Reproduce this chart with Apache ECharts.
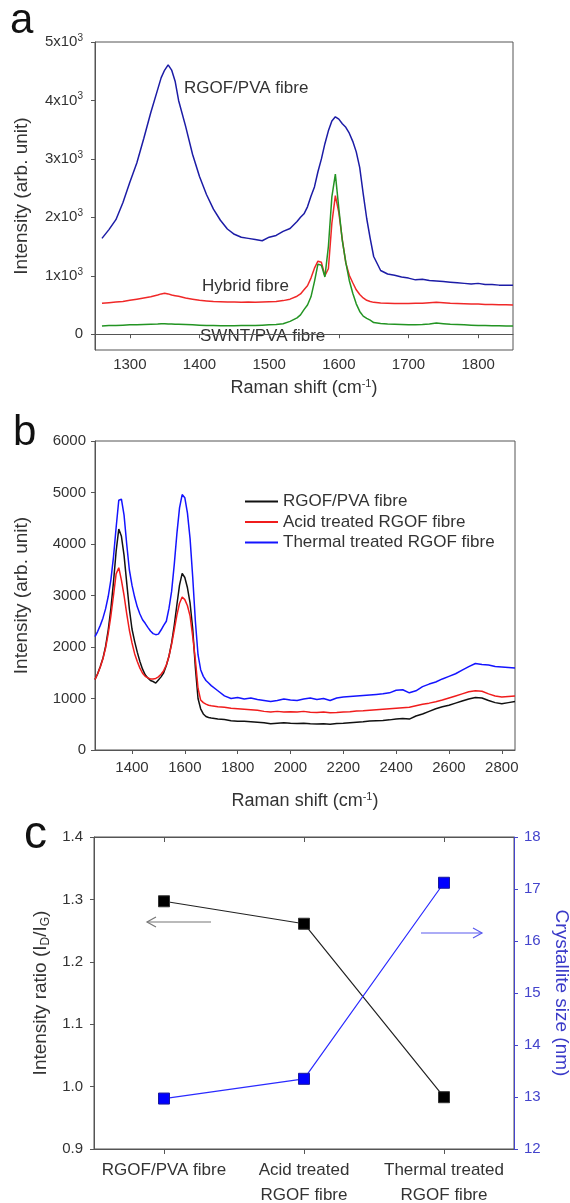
<!DOCTYPE html>
<html><head><meta charset="utf-8">
<script src="https://cdn.jsdelivr.net/npm/echarts@6/dist/echarts.min.js"></script>
<style>html,body{margin:0;padding:0;background:#fff}#c{width:570px;height:1203px}</style>
</head><body><div id="c"></div>
<script>
// ---------- Panel a ----------
const ramanA = [1260,1270,1280,1290,1300,1310,1320,1330,1340,1345,1350,1355,1360,1365,1370,1380,1390,1400,1410,1420,1430,1440,1450,1460,1470,1480,1490,1500,1510,1520,1530,1540,1545,1550,1555,1560,1565,1570,1575,1580,1585,1590,1595,1600,1605,1610,1615,1620,1625,1630,1635,1640,1645,1650,1660,1670,1680,1690,1700,1710,1720,1730,1740,1750,1760,1770,1780,1790,1800,1810,1820,1830,1840,1850];
const rgofA = [1640,1790,1960,2250,2600,2930,3350,3790,4190,4390,4520,4610,4520,4330,4000,3560,3080,2700,2390,2140,1950,1800,1710,1660,1640,1620,1600,1660,1690,1760,1810,1930,2000,2060,2180,2360,2520,2780,3000,3260,3480,3650,3720,3680,3600,3540,3440,3300,3120,2850,2400,1980,1640,1330,1090,1030,1010,980,960,930,940,920,910,900,890,880,870,860,870,850,850,840,840,840];
const hybridA = [530,540,550,560,580,600,620,640,670,690,700,690,670,660,650,620,600,580,570,560,555,550,550,545,550,545,550,555,560,575,600,650,690,760,830,960,1130,1250,1230,1000,1120,1900,2370,2080,1620,1220,1010,880,760,680,620,580,560,545,535,530,525,525,525,530,530,540,545,540,530,525,520,515,515,510,510,505,505,500];
const swntA = [140,150,150,155,160,160,165,170,175,180,180,175,175,170,170,165,160,155,150,150,145,145,145,150,150,150,155,160,165,180,220,280,330,420,500,640,900,1200,1180,980,1500,2350,2740,2150,1600,1230,920,700,520,390,310,270,240,200,185,175,170,165,160,160,165,175,190,180,170,165,160,155,150,150,145,145,140,140];
const xTicksA = [1300,1400,1500,1600,1700,1800];
const yTicksA = [0,1000,2000,3000,4000,5000];

// ---------- Panel b ----------
const ramanB = [1260,1270,1280,1290,1300,1310,1320,1330,1340,1350,1360,1370,1380,1390,1400,1410,1420,1430,1440,1450,1460,1470,1480,1490,1500,1510,1520,1530,1540,1550,1560,1570,1580,1590,1600,1610,1620,1630,1640,1650,1660,1670,1680,1690,1700,1725,1750,1775,1800,1825,1850,1875,1900,1925,1950,1975,2000,2025,2050,2075,2100,2125,2150,2175,2200,2225,2250,2275,2300,2325,2350,2375,2400,2425,2450,2475,2500,2525,2550,2575,2600,2625,2650,2675,2700,2725,2750,2775,2800,2825,2850];
const rgofB = [1370,1480,1620,1780,2010,2330,2740,3260,3860,4290,4150,3780,3250,2740,2350,2110,1900,1720,1570,1460,1400,1350,1330,1300,1360,1420,1500,1640,1820,2080,2420,2820,3200,3430,3350,3150,2850,2350,1600,1000,800,700,650,630,620,600,590,570,560,560,550,540,530,510,520,530,520,515,520,510,505,510,500,515,520,530,540,550,565,570,575,585,600,610,600,660,700,750,800,840,870,910,950,990,1020,1010,960,920,900,920,940];
const acidB = [1370,1480,1610,1770,1980,2260,2600,3000,3420,3540,3300,3000,2650,2330,2080,1870,1720,1590,1490,1430,1400,1380,1380,1390,1420,1470,1540,1650,1820,2050,2330,2620,2850,2970,2920,2800,2600,2200,1750,1200,970,920,890,870,860,840,830,810,800,790,780,770,750,740,750,740,745,740,750,735,730,740,725,730,740,745,755,760,770,780,790,800,810,820,830,860,890,910,935,970,1010,1050,1090,1130,1150,1140,1090,1050,1030,1040,1050];
const thermalB = [2200,2300,2420,2560,2740,2980,3300,3750,4320,4850,4870,4560,4000,3500,3200,2970,2780,2640,2530,2460,2380,2310,2260,2240,2250,2330,2420,2500,2750,3080,3600,4200,4700,4960,4900,4600,4100,3350,2500,1850,1560,1430,1350,1300,1250,1150,1050,1000,1020,990,1010,980,960,940,960,990,970,960,990,1010,980,1000,960,1010,1030,1040,1050,1060,1070,1080,1090,1110,1160,1170,1110,1150,1230,1280,1320,1380,1430,1480,1550,1620,1680,1660,1650,1620,1610,1600,1590];
const xTicksB = [1400,1600,1800,2000,2200,2400,2600,2800];
const yTicksB = [0,1000,2000,3000,4000,5000,6000];

// ---------- Panel c ----------
const categoriesC = ['RGOF/PVA fibre', 'Acid treated\nRGOF fibre', 'Thermal treated\nRGOF fibre'];
const ratioC = [1.297, 1.261, 0.983];
const sizeC = [12.97, 13.35, 17.12];
const yTicksCLeft = [0.9, 1.0, 1.1, 1.2, 1.3, 1.4];
const yTicksCRight = [12, 13, 14, 15, 16, 17, 18];

const FONT = 'Liberation Sans, Arial, sans-serif';
const TXT = '#333';
const AX = '#555';
const BLUEAX = '#4444cc';
const zip = (xs, ys) => xs.map((x, i) => [x, ys[i]]);
const plain = v => String(v);

const chart = echarts.init(document.getElementById('c'), null, {renderer: 'canvas'});

const baseAxisLine = {show: true, lineStyle: {color: AX, width: 1}};
const outTick = {show: true, inside: false, length: 4, lineStyle: {color: AX}};

const option = {
  backgroundColor: '#fff',
  animation: false,
  textStyle: {fontFamily: FONT},
  grid: [
    {left: 95, top: 42, width: 418, height: 308, show: true, borderColor: AX, borderWidth: 1, outerBoundsMode: 'none', containLabel: false},
    {left: 95, top: 441, width: 420, height: 309, show: true, borderColor: AX, borderWidth: 1, outerBoundsMode: 'none', containLabel: false},
    {left: 94, top: 837, width: 420, height: 312, show: true, borderColor: AX, borderWidth: 1, outerBoundsMode: 'none', containLabel: false}
  ],
  legend: {
    data: ['RGOF/PVA fibre', 'Acid treated RGOF fibre', 'Thermal treated RGOF fibre'],
    left: 240, top: 488, orient: 'vertical', icon: 'rect',
    itemWidth: 33, itemHeight: 2, itemGap: 3.5, selectedMode: false,
    textStyle: {fontSize: 17, color: TXT, fontFamily: FONT, lineHeight: 17}
  },
  xAxis: [
    {
      gridIndex: 0, type: 'value', min: 1250, max: 1850,
      axisLine: baseAxisLine, axisTick: Object.assign({customValues: xTicksA}, outTick),
      axisLabel: {customValues: xTicksA, formatter: plain, fontSize: 15, color: TXT, margin: 7, fontFamily: FONT},
      splitLine: {show: false},
      name: 'Raman shift (cm{s|-1})', nameLocation: 'middle', nameGap: 28,
      nameTextStyle: {fontSize: 18, color: TXT, fontFamily: FONT,
        rich: {s: {fontSize: 11, color: TXT, fontFamily: FONT, padding: [0, 0, 9, 0]}}}
    },
    {
      gridIndex: 1, type: 'value', min: 1260, max: 2850,
      axisLine: baseAxisLine, axisTick: Object.assign({customValues: xTicksB}, outTick),
      axisLabel: {customValues: xTicksB, formatter: plain, fontSize: 15, color: TXT, margin: 10, fontFamily: FONT},
      splitLine: {show: false},
      name: 'Raman shift (cm{s|-1})', nameLocation: 'middle', nameGap: 41,
      nameTextStyle: {fontSize: 18, color: TXT, fontFamily: FONT,
        rich: {s: {fontSize: 11, color: TXT, fontFamily: FONT, padding: [0, 0, 9, 0]}}}
    },
    {
      gridIndex: 2, type: 'category', data: categoriesC, boundaryGap: true,
      axisLine: baseAxisLine,
      axisTick: {show: true, alignWithLabel: true, inside: false, length: 5, lineStyle: {color: AX}},
      axisLabel: {interval: 0, fontSize: 17, lineHeight: 25, color: TXT, margin: 9, fontFamily: FONT},
      splitLine: {show: false}
    },
    {
      gridIndex: 2, type: 'category', data: categoriesC, boundaryGap: true, position: 'top',
      axisLine: baseAxisLine,
      axisTick: {show: true, alignWithLabel: true, inside: true, length: 5, lineStyle: {color: AX}},
      axisLabel: {show: false}, splitLine: {show: false}
    }
  ],
  yAxis: [
    {
      gridIndex: 0, type: 'value', min: -270, max: 5000,
      axisLine: baseAxisLine, axisTick: Object.assign({customValues: yTicksA}, outTick),
      axisLabel: {customValues: yTicksA, margin: 12, fontFamily: FONT, color: TXT, fontSize: 15,
        formatter: v => v === 0 ? '{n|0}' : '{n|' + (v / 1000) + 'x10}{s|3}',
        rich: {n: {fontSize: 15, color: TXT, fontFamily: FONT},
               s: {fontSize: 10, color: TXT, fontFamily: FONT, padding: [0, 0, 8, 0]}}},
      splitLine: {show: false},
      name: 'Intensity (arb. unit)', nameLocation: 'middle', nameGap: 64,
      nameTextStyle: {fontSize: 19, color: TXT, fontFamily: FONT}
    },
    {
      gridIndex: 1, type: 'value', min: 0, max: 6000, interval: 1000,
      axisLine: baseAxisLine, axisTick: outTick,
      axisLabel: {customValues: yTicksB, formatter: plain, fontSize: 15, color: TXT, margin: 9, fontFamily: FONT},
      splitLine: {show: false},
      name: 'Intensity (arb. unit)', nameLocation: 'middle', nameGap: 64,
      nameTextStyle: {fontSize: 19, color: TXT, fontFamily: FONT}
    },
    {
      gridIndex: 2, type: 'value', min: 0.9, max: 1.4, interval: 0.1,
      axisLine: baseAxisLine, axisTick: outTick,
      axisLabel: {customValues: yTicksCLeft, fontSize: 15, color: TXT, margin: 11, fontFamily: FONT,
        formatter: v => v.toFixed(1)},
      splitLine: {show: false},
      name: 'Intensity ratio (I{s|D}/I{s|G})', nameLocation: 'middle', nameGap: 38,
      nameTextStyle: {fontSize: 19, color: TXT, fontFamily: FONT,
        rich: {s: {fontSize: 12, color: TXT, fontFamily: FONT, padding: [9, 0, 0, 0]}}}
    },
    {
      gridIndex: 2, type: 'value', min: 12, max: 18, interval: 1, position: 'right',
      axisLine: {show: true, lineStyle: {color: BLUEAX, width: 1}},
      axisTick: {show: true, inside: false, length: 4, lineStyle: {color: BLUEAX}},
      axisLabel: {customValues: yTicksCRight, formatter: plain, fontSize: 15, color: BLUEAX, margin: 10, fontFamily: FONT},
      splitLine: {show: false},
      name: 'Crystallite size (nm)', nameLocation: 'middle', nameGap: 36, nameRotate: -90,
      nameTextStyle: {fontSize: 19, color: '#3a3ac8', fontFamily: FONT}
    }
  ],
  series: [
    {name: 'RGOF/PVA fibre (a)', type: 'line', xAxisIndex: 0, yAxisIndex: 0, data: zip(ramanA, rgofA),
      showSymbol: false, symbol: 'none', lineStyle: {color: '#1c1ca6', width: 1.5}, itemStyle: {color: '#1c1ca6'}},
    {name: 'Hybrid fibre', type: 'line', xAxisIndex: 0, yAxisIndex: 0, data: zip(ramanA, hybridA),
      showSymbol: false, symbol: 'none', lineStyle: {color: '#f02828', width: 1.5}, itemStyle: {color: '#f02828'}},
    {name: 'SWNT/PVA fibre', type: 'line', xAxisIndex: 0, yAxisIndex: 0, data: zip(ramanA, swntA),
      showSymbol: false, symbol: 'none', lineStyle: {color: '#239423', width: 1.5}, itemStyle: {color: '#239423'}},
    {name: 'RGOF/PVA fibre', type: 'line', xAxisIndex: 1, yAxisIndex: 1, data: zip(ramanB, rgofB),
      showSymbol: false, symbol: 'none', lineStyle: {color: '#111111', width: 1.5}, itemStyle: {color: '#111111'}},
    {name: 'Acid treated RGOF fibre', type: 'line', xAxisIndex: 1, yAxisIndex: 1, data: zip(ramanB, acidB),
      showSymbol: false, symbol: 'none', lineStyle: {color: '#f01c1c', width: 1.5}, itemStyle: {color: '#f01c1c'}},
    {name: 'Thermal treated RGOF fibre', type: 'line', xAxisIndex: 1, yAxisIndex: 1, data: zip(ramanB, thermalB),
      showSymbol: false, symbol: 'none', lineStyle: {color: '#1414ff', width: 1.5}, itemStyle: {color: '#1414ff'}},
    {name: 'I_D/I_G', type: 'line', xAxisIndex: 2, yAxisIndex: 2, data: ratioC,
      symbol: 'rect', symbolSize: 11, lineStyle: {color: '#222', width: 1.2},
      itemStyle: {color: '#000', borderColor: '#333', borderWidth: 1}},
    {name: 'Crystallite size', type: 'line', xAxisIndex: 2, yAxisIndex: 3, data: sizeC,
      symbol: 'rect', symbolSize: 11, lineStyle: {color: '#2a2aff', width: 1.2},
      itemStyle: {color: '#0000ff', borderColor: '#1a1a99', borderWidth: 1}}
  ],
  graphic: [
    {type: 'text', left: 10, top: 0, style: {text: 'a', font: '42px ' + FONT, fill: '#111'}},
    {type: 'text', left: 13, top: 412, style: {text: 'b', font: '42px ' + FONT, fill: '#111'}},
    {type: 'text', left: 24, top: 812, style: {text: 'c', font: '46px ' + FONT, fill: '#111'}},
    {type: 'text', left: 184, top: 80, style: {text: 'RGOF/PVA fibre', font: '17px ' + FONT, fill: TXT}},
    {type: 'text', left: 202, top: 278, style: {text: 'Hybrid fibre', font: '17px ' + FONT, fill: TXT}},
    {type: 'text', left: 200, top: 328, style: {text: 'SWNT/PVA fibre', font: '17px ' + FONT, fill: TXT}},
    {type: 'line', shape: {x1: 211, y1: 922, x2: 147, y2: 922}, style: {stroke: '#777', lineWidth: 1.2}},
    {type: 'polyline', shape: {points: [[156, 917], [147, 922], [156, 927]]}, style: {stroke: '#777', lineWidth: 1.2, fill: null}},
    {type: 'line', shape: {x1: 421, y1: 933, x2: 482, y2: 933}, style: {stroke: '#5a5aee', lineWidth: 1.2}},
    {type: 'polyline', shape: {points: [[473, 928], [482, 933], [473, 938]]}, style: {stroke: '#5a5aee', lineWidth: 1.2, fill: null}}
  ]
};
chart.setOption(option);
</script>
</body></html>
